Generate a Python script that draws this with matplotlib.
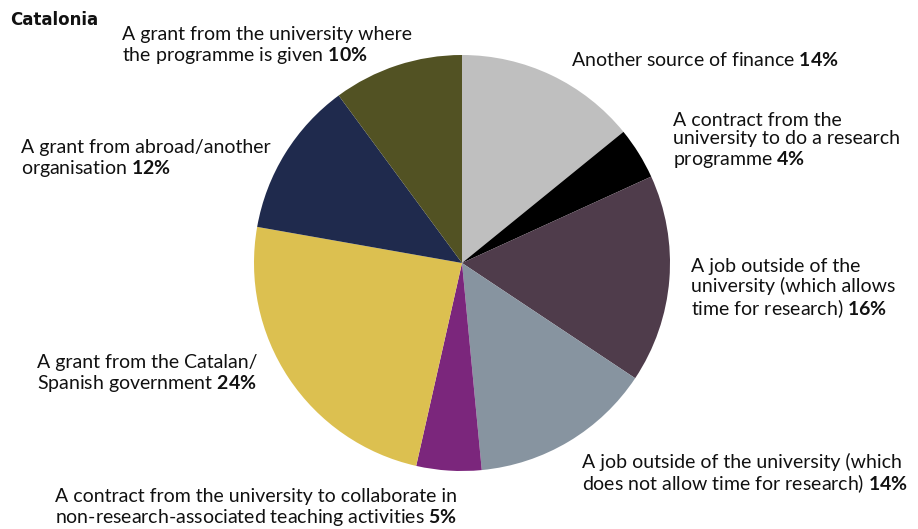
import matplotlib.pyplot as plt

plt.rcParams['font.family'] = ['Lato', 'DejaVu Sans']
plt.rcParams['mathtext.fontset'] = 'custom'
plt.rcParams['mathtext.rm'] = 'Lato'
plt.rcParams['mathtext.bf'] = 'Lato:bold'

# funding sources, clockwise from 12 o'clock
sources = [
    'Another source of finance',
    'A contract from the\nuniversity to do a research\nprogramme',
    'A job outside of the\nuniversity (which allows\ntime for research)',
    'A job outside of the university (which\ndoes not allow time for research)',
    'A contract from the university to collaborate in\nnon-research-associated teaching activities',
    'A grant from the Catalan/\nSpanish government',
    'A grant from abroad/another\norganisation',
    'A grant from the university where\nthe programme is given',
]
shares = [14, 4, 16, 14, 5, 24, 12, 10]
colors = ['#bfbfbf', '#000000', '#4f3c4b', '#8794a0',
          '#7b267c', '#dcc050', '#1f2a4d', '#525223']

# label anchor (left x, centre y) in pixels from the top-left corner
label_pos = [(571, 60), (673, 141), (691, 289), (582, 474),
             (55, 508), (37, 374), (21, 159), (122, 46)]

W, H = 918, 529
fig = plt.figure(figsize=(W / 100, H / 100), dpi=100)

cx, cy, r = 462, 263, 208
ax = fig.add_axes([(cx - r) / W, (H - cy - r) / H, 2 * r / W, 2 * r / H])
ax.pie(shares, colors=colors, startangle=90, counterclock=False,
       radius=1, wedgeprops=dict(linewidth=0))
ax.set_xlim(-1, 1)
ax.set_ylim(-1, 1)
ax.set_aspect('equal')
ax.axis('off')

for name, val, (px, py) in zip(sources, shares, label_pos):
    txt = name + ' $\\bf{' + str(val) + '\\%}$'
    fig.text(px / W, 1 - py / H, txt, fontsize=14, ha='left',
             va='center', linespacing=1.12, color='#111111')

fig.text(10 / W, 1 - 20 / H, 'Catalonia', fontsize=12, fontweight='bold',
         family='DejaVu Sans', ha='left', va='center', color='#111111')

fig.savefig('out.png', dpi=100)
